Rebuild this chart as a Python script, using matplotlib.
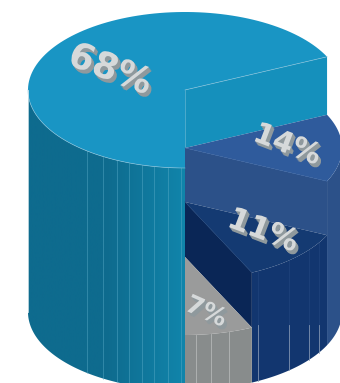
import numpy as np
import matplotlib
matplotlib.use('Agg')
import matplotlib.pyplot as plt
import matplotlib.patheffects as pe
from matplotlib.colors import LinearSegmentedColormap
from matplotlib.patches import Polygon

# stepped 3d pie, each slice sits lower than the one before
labels = ['68%', '14%', '11%', '7%']
values = [68, 14, 11, 7]
top_colors = ['#1995c4', '#2f5b9c', '#143a72', '#9a9b9b']
wall_colors = ['#1590bc', '#2c5189', '#0a2656', '#9a9b9b']
side_colors = ['#0e6b8e', '#2c5189', '#12366f', '#888c8c']

# tick marks on the outer walls
blue_lines = [87, 103, 117, 129, 142, 154, 168, 181]
navy_lines = [258, 289, 309, 319]
gray_lines = [196, 211, 229]

# label placement
label_x = [110, 287, 263, 206]
label_y = [70, 145, 231, 312]
label_size = [26, 21, 22, 18]
label_rot = [-21, -21, -21, -24]

cx = 185
rx = 157
ry = 78
levels = [90, 148, 202, 257]
floor = 312


def arc(t0, t1, y0, n=120):
    t = np.radians(np.linspace(t0, t1, n))
    return np.column_stack([cx + rx * np.cos(t), y0 - ry * np.sin(t)])


def rim(t, y0):
    return cx + rx * np.cos(np.radians(t)), y0 - ry * np.sin(np.radians(t))


fig = plt.figure(figsize=(3.4, 3.83), dpi=100)
ax = fig.add_axes([0, 0, 1, 1])
ax.axis('off')

start = 270.0
angles = []
for v in values:
    angles.append((start, start - v * 3.6))
    start = start - v * 3.6

for i in range(len(values)):
    t0, t1 = angles[i]
    y0 = levels[i]
    # outer wall, only the front half of the circle shows
    hi, lo = t0, t1
    if t0 > 180 and t1 < 180:
        lo = 180.0
    if t0 > 0 and t1 < 0:
        hi = 0.0
    side = np.vstack([arc(hi, lo, y0), arc(lo, hi, floor)])
    if i == 0:
        grad = LinearSegmentedColormap.from_list('side', ['#0e6b8e', '#0e6b8e', '#1185ab'])
        im = ax.imshow(np.linspace(0, 1, 256).reshape(1, -1), cmap=grad, aspect='auto',
                       extent=[28, 185, 383, 0], zorder=1)
        p = Polygon(side, closed=True, fc='none', ec='none', transform=ax.transData)
        ax.add_patch(p)
        im.set_clip_path(p)
    else:
        ax.fill(side[:, 0], side[:, 1], color=side_colors[i], lw=0, zorder=1 + i)

    # flat wall dropping down to the next slice
    if i < len(values) - 1:
        ny = levels[i + 1]
        rx0, ry0 = rim(t1, y0)
        ax.fill([cx, rx0, rx0, cx], [y0, ry0, ny + ry0 - y0, ny],
                color=wall_colors[i], lw=0, zorder=1.5 + i)
        ax.plot([cx, rx0], [y0, ry0], color='#8cc4dc' if i == 0 else top_colors[i],
                lw=0.5, alpha=0.8, zorder=1.8 + i)
        if i == 0:
            ax.plot([cx, cx], [y0, ny], color='#55aece', lw=0.6, zorder=1.8)

    # top face
    top = np.vstack([[cx, y0], arc(t0, t1, y0)])
    ax.fill(top[:, 0], top[:, 1], color=top_colors[i], lw=0, zorder=1.6 + i)


def wall_ticks(xs, y0, color, alpha, y1=None):
    for x in xs:
        dx = (x - cx) / rx
        y_top = y0 + ry * np.sqrt(1 - dx ** 2)
        y_bot = floor + ry * np.sqrt(1 - dx ** 2)
        if y1 is not None:
            y_top = max(y_top, y1)
        ax.plot([x, x], [y_top, y_bot], color=color, lw=0.6, alpha=alpha, zorder=6)


wall_ticks(blue_lines, levels[0], '#5fb0cc', 0.5)
wall_ticks(navy_lines, levels[2], '#2a5088', 0.45)
wall_ticks(navy_lines, levels[2], '#a9b6c8', 0.7, y1=325)
wall_ticks(gray_lines, levels[3], '#c6c9c9', 0.7)

# light rim along the front edge of the big slice
edge = arc(180, 270, levels[0])
ax.plot(edge[:, 0], edge[:, 1], color='#8cc4dc', lw=0.5, alpha=0.8, zorder=7)
ax.plot([28, 28], [levels[0], floor], color='#cfe3ea', lw=0.6, zorder=7)

for i in range(len(labels)):
    shade = [pe.SimplePatchShadow(offset=(k * 0.5, -k * 0.7), shadow_rgbFace='#8f999d', alpha=1)
             for k in (4, 3, 2, 1)]
    ax.text(label_x[i], label_y[i], labels[i], fontsize=label_size[i], fontweight='bold',
            family='DejaVu Sans', color='#d6d9da', rotation=label_rot[i],
            rotation_mode='anchor', ha='center', va='center', zorder=9,
            path_effects=shade + [pe.Normal()])

ax.set_xlim(0, 340)
ax.set_ylim(383, 0)
fig.savefig('out.png', dpi=100)
